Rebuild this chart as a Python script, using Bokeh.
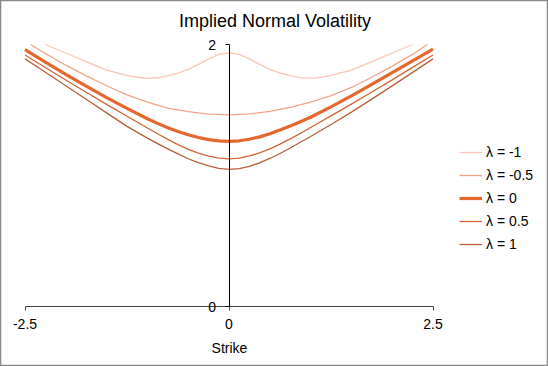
from bokeh.plotting import figure
from bokeh.models import Range1d, FixedTicker, CustomJSTickFormatter, Label, LinearAxis
from bokeh.embed import file_html
from bokeh.resources import INLINE

# ---- data ----
strike = [-2.5, -2.25, -2.0, -1.75, -1.5, -1.25, -1.0, -0.875, -0.75, -0.625, -0.5,
          -0.375, -0.25, -0.125, 0.0, 0.125, 0.25, 0.375, 0.5, 0.625, 0.75, 0.875,
          1.0, 1.25, 1.5, 1.75, 2.0, 2.25, 2.5]
vol_lam_0 = [1.960, 1.865, 1.772, 1.682, 1.595, 1.512, 1.433, 1.398, 1.365, 1.336, 1.311,
             1.290, 1.274, 1.264, 1.260, 1.265, 1.277, 1.295, 1.319, 1.347, 1.377, 1.410,
             1.445, 1.524, 1.608, 1.695, 1.785, 1.875, 1.965]
vol_lam_05 = [1.920, 1.824, 1.729, 1.635, 1.543, 1.452, 1.363, 1.319, 1.276, 1.236, 1.200,
              1.170, 1.148, 1.133, 1.127, 1.133, 1.149, 1.172, 1.203, 1.240, 1.280, 1.322,
              1.366, 1.455, 1.545, 1.637, 1.730, 1.825, 1.920]
vol_lam_1 = [1.890, 1.788, 1.685, 1.582, 1.478, 1.375, 1.285, 1.243, 1.203, 1.165, 1.128,
             1.098, 1.073, 1.055, 1.046, 1.053, 1.070, 1.097, 1.130, 1.168, 1.210, 1.254,
             1.298, 1.389, 1.484, 1.583, 1.684, 1.787, 1.890]
# lambda = -1 and -0.5 leave the top of the chart, so their visible parts are shorter
strike_lam_m1 = [-2.25, -2.0, -1.75, -1.5, -1.25, -1.125, -1.0, -0.875, -0.75, -0.625,
                 -0.5, -0.375, -0.25, -0.125, 0.0, 0.125, 0.25, 0.375, 0.5, 0.625,
                 0.75, 0.875, 1.0, 1.125, 1.25, 1.5, 1.75, 2.0, 2.25]
vol_lam_m1 = [2.00, 1.935, 1.87, 1.805, 1.765, 1.75, 1.742, 1.746, 1.762, 1.782,
              1.81, 1.848, 1.89, 1.924, 1.937, 1.924, 1.89, 1.848, 1.81, 1.782,
              1.762, 1.747, 1.742, 1.749, 1.764, 1.805, 1.87, 1.935, 2.00]
strike_lam_m05 = [-2.43, -2.25, -2.0, -1.75, -1.5, -1.25, -1.0, -0.75, -0.5, -0.25, 0.0,
                  0.25, 0.5, 0.75, 1.0, 1.25, 1.5, 1.75, 2.0, 2.25, 2.43]
vol_lam_m05 = [2.00, 1.93, 1.842, 1.76, 1.685, 1.615, 1.56, 1.515, 1.487, 1.469, 1.463,
               1.470, 1.490, 1.520, 1.560, 1.610, 1.672, 1.750, 1.835, 1.925, 2.00]
series_labels = ["λ = -1", "λ = -0.5", "λ = 0", "λ = 0.5", "λ = 1"]
x_ticks = [-2.5, 0, 2.5]
y_ticks = [0, 2]
x_min, x_max = -2.5, 2.5
y_min, y_max = 0, 2

FONT = "Liberation Sans"

# ---- layout in canvas pixels ----
W, H = 548, 366
AX_L, AX_R = 24.5, 432.5     # pixel span of x in [-2.5, 2.5]
AX_T, AX_B = 44.0, 306.0     # pixel span of y in [0, 2]
ppx = (AX_R - AX_L) / (x_max - x_min)
ppy = (AX_B - AX_T) / (y_max - y_min)
xr = Range1d(x_min - AX_L / ppx, x_max + (W - AX_R) / ppx)
yr = Range1d(y_min - (H - AX_B) / ppy, y_max + AX_T / ppy)

p = figure(width=W, height=H, output_backend="svg", toolbar_location=None,
           x_range=xr, y_range=yr, x_axis_location=None, y_axis_location=None,
           min_border=0)
p.title = None
p.grid.visible = False
p.outline_line_color = "#8a8a8a"
p.outline_line_width = 1.5
p.background_fill_color = "white"
p.border_fill_color = "white"

colors = ["#f9c6b5", "#f3a488", "#e5672d", "#d26536", "#b85f38"]
widths = [1.3, 1.3, 3.2, 1.3, 1.3]
xs_all = [strike_lam_m1, strike_lam_m05, strike, strike, strike]
ys_all = [vol_lam_m1, vol_lam_m05, vol_lam_0, vol_lam_05, vol_lam_1]
for xs, ys, c, w, lab in zip(xs_all, ys_all, colors, widths, series_labels):
    p.line(xs, ys, line_color=c, line_width=w, legend_label=lab, line_join="round")

fmt = CustomJSTickFormatter(code="return tick.toString();")

xa = LinearAxis(fixed_location=0, bounds=(x_min, x_max))
xa.ticker = FixedTicker(ticks=x_ticks)
xa.formatter = fmt
xa.minor_tick_line_color = None
xa.major_tick_out = 4
xa.major_tick_in = 0
xa.axis_line_color = "#444444"
xa.major_tick_line_color = "#444444"
xa.major_label_standoff = 8
xa.major_label_text_font = FONT
xa.major_label_text_font_size = "14px"
xa.major_label_text_color = "black"
xa.axis_label = "Strike"
xa.axis_label_text_font = FONT
xa.axis_label_text_font_size = "14px"
xa.axis_label_text_font_style = "normal"
xa.axis_label_text_color = "black"
xa.axis_label_standoff = 8
p.add_layout(xa, "below")

ya = LinearAxis(fixed_location=0, bounds=(y_min, y_max))
ya.ticker = FixedTicker(ticks=y_ticks)
ya.formatter = fmt
ya.minor_tick_line_color = None
ya.major_tick_out = 4
ya.major_tick_in = 0
ya.axis_line_color = "black"
ya.major_tick_line_color = "black"
ya.major_label_standoff = 9
ya.major_label_text_font = FONT
ya.major_label_text_font_size = "14px"
ya.major_label_text_color = "black"
p.add_layout(ya, "left")

title = Label(x=274.5, y=H - 20, x_units="screen", y_units="screen",
              text="Implied Normal Volatility", text_align="center",
              text_baseline="middle", text_font=FONT, text_font_size="18px",
              text_color="black")
p.add_layout(title)

lg = p.legend[0]
lg.location = (459, H - 254)
lg.border_line_color = None
lg.background_fill_alpha = 0
lg.padding = 0
lg.margin = 0
lg.spacing = 3
lg.glyph_width = 23
lg.glyph_height = 20
lg.label_height = 20
lg.label_standoff = 4
lg.label_text_font = FONT
lg.label_text_font_size = "14px"
lg.label_text_color = "black"

open("out.html", "w").write(file_html(p, INLINE))
